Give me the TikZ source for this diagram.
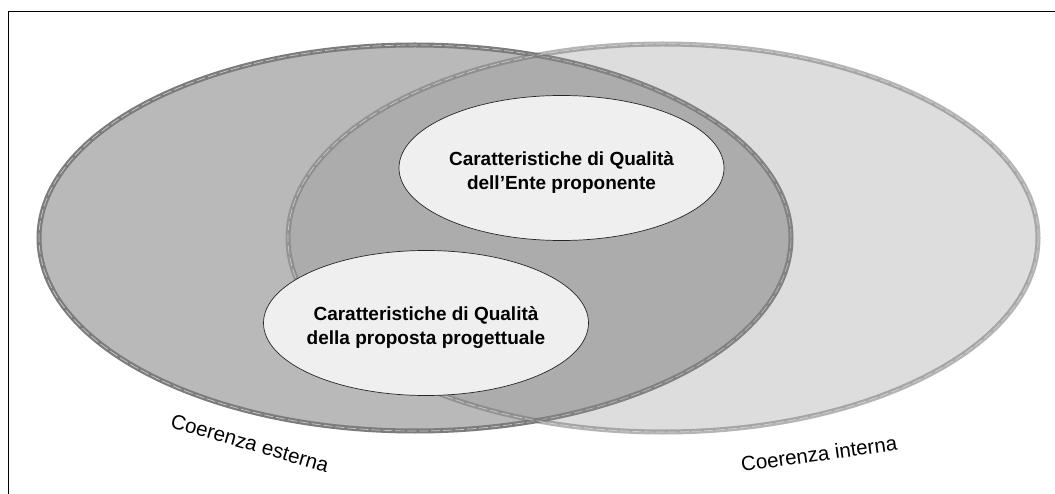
\documentclass[tikz,border=0pt]{standalone}
\usepackage{fontspec}
\setmainfont{Liberation Sans}
\usetikzlibrary{shapes.geometric}
\definecolor{extfill}{HTML}{B9B9B9}
\definecolor{extline}{HTML}{7C7C7C}
\definecolor{extseam}{HTML}{C8C8C8}
\definecolor{intfill}{HTML}{919191}
\definecolor{intline}{HTML}{777777}
\definecolor{intseam}{HTML}{DADADA}
\definecolor{qualfill}{HTML}{EFEFEF}
\begin{document}
\begin{tikzpicture}[x=1pt,y=-1pt,
  ringline/.style={line width=5pt},
  seamline/.style={line width=0.7pt, dash pattern=on 9pt off 3pt},
  qual/.style={ellipse, draw=black!85, line width=0.7pt, fill=qualfill,
    inner sep=0pt, minimum width=325pt, minimum height=145pt},
  qualtext/.style={align=center, font=\bfseries\fontsize{19}{24}\selectfont},
  coherence/.style={font=\fontsize{20.5}{24}\selectfont, anchor=base, inner sep=0pt}]
\useasboundingbox (0,0) rectangle (1055,494);
\fill[white] (0,0) rectangle (1055,494);

% external coherence: opaque ellipse with a grey double ring
\fill[extfill] (415,238) ellipse [x radius=376pt, y radius=193pt];
\draw[extline, ringline] (415,238) ellipse [x radius=376pt, y radius=193pt];
\draw[extseam, seamline] (415,238) ellipse [x radius=376pt, y radius=193pt];

% internal coherence: translucent ellipse laid over it
\fill[intfill, fill opacity=0.3] (663,238) ellipse [x radius=375pt, y radius=194pt];
\draw[intline, ringline, draw opacity=0.55] (663,238) ellipse [x radius=375pt, y radius=194pt];
\draw[intseam, seamline, draw opacity=0.8] (663,238) ellipse [x radius=375pt, y radius=194pt];

% quality characteristics
\node[qual] (ente) at (561.5,168) {};
\node[qualtext] (ente text) at ([yshift=-5pt]ente.center)
  {Caratteristiche di Qualità\\dell’Ente proponente};
\node[qual] (proposta) at (426,323) {};
\node[qualtext] (proposta text) at ([yshift=-5pt]proposta.center)
  {Caratteristiche di Qualità\\della proposta progettuale};

% ring labels
\node[coherence, rotate=-16] (esterna) at (248,450) {Coerenza esterna};
\node[coherence, rotate=8] (interna) at (820,461) {Coerenza interna};

% frame
\draw[line width=0.9pt] (8,500) -- (8,11) -- (1060,11);
\end{tikzpicture}
\end{document}
